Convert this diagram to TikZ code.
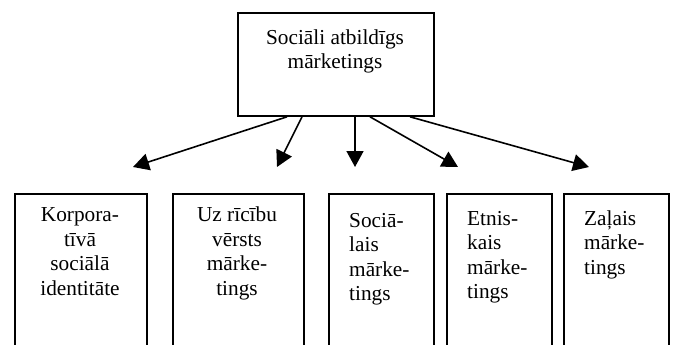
\documentclass[tikz,border=0pt]{standalone}
\usepackage{fontspec}
\setmainfont{Liberation Serif}
\usetikzlibrary{arrows.meta}
\begin{document}
\begin{tikzpicture}[x=1pt,y=-1pt,
  box/.style={draw, line width=1.8pt, inner sep=0, anchor=north west},
  lbl/.style={inner sep=0, font=\fontsize{21.3}{24.5}\selectfont},
  arr/.style={line width=1.6pt, -{Triangle[length=16pt,width=17pt]}}]
\useasboundingbox (0,0) rectangle (674,345);
\node[box, minimum width=196pt, minimum height=103pt] (top) at (237,12) {};
\begin{scope}
\clip (0,0) rectangle (674,345);
\node[box, minimum width=132pt, minimum height=200pt] (b1) at (14,193) {};
\node[box, minimum width=131pt, minimum height=200pt] (b2) at (172,193) {};
\node[box, minimum width=105pt, minimum height=200pt] (b3) at (328,193) {};
\node[box, minimum width=105pt, minimum height=200pt] (b4) at (446,193) {};
\node[box, minimum width=105pt, minimum height=200pt] (b5) at (563,193) {};
\end{scope}
\node[lbl, anchor=base, align=center] (lt) at (335,68.5) {Sociāli atbildīgs\\mārketings};
\node[lbl, anchor=base, align=center] (l1) at (80,295) {Korpora-\\tīvā\\sociālā\\identitāte};
\node[lbl, anchor=base, align=center] (l2) at (237,295) {Uz rīcību\\vērsts\\mārke-\\tings};
\node[lbl, anchor=base west, align=left] (l3) at (349,300.5) {Sociā-\\lais\\mārke-\\tings};
\node[lbl, anchor=base west, align=left] (l4) at (467,298.5) {Etnis-\\kais\\mārke-\\tings};
\node[lbl, anchor=base west, align=left] (l5) at (584,274) {Zaļais\\mārke-\\tings};
\coordinate (t1) at (133,167);
\coordinate (t2) at (277,167);
\coordinate (t3) at (355,167);
\coordinate (t4) at (458,167);
\coordinate (t5) at (589,167);
\draw[arr] ([xshift=50pt]top.south west) -- (t1);
\draw[arr] ([xshift=65pt]top.south west) -- (t2);
\draw[arr] ([xshift=118pt]top.south west) -- (t3);
\draw[arr] ([xshift=133pt]top.south west) -- (t4);
\draw[arr] ([xshift=173pt]top.south west) -- (t5);
\end{tikzpicture}
\end{document}
